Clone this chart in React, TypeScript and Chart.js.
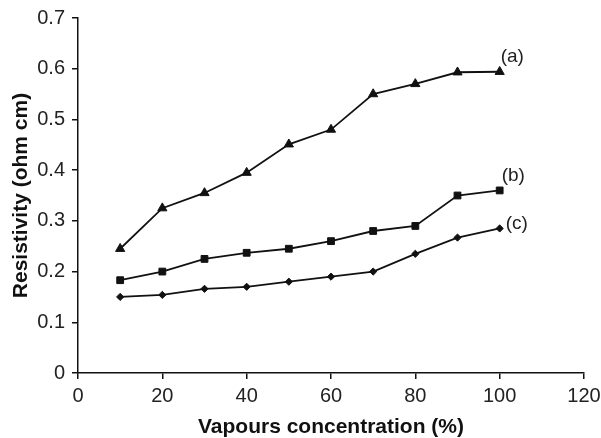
import React, { useEffect, useRef } from "react";
import { Chart, registerables } from "chart.js";

Chart.register(...registerables);

const concentrations = [10, 20, 30, 40, 50, 60, 70, 80, 90, 100];
const seriesA = [0.245, 0.325, 0.355, 0.395, 0.451, 0.48, 0.55, 0.57, 0.593, 0.594];
const seriesB = [0.183, 0.2, 0.225, 0.237, 0.245, 0.26, 0.28, 0.29, 0.35, 0.36];
const seriesC = [0.15, 0.154, 0.166, 0.17, 0.18, 0.19, 0.2, 0.235, 0.267, 0.285];
const seriesLabels = ["(a)", "(b)", "(c)"];

const FONT = "'Liberation Sans', Arial, sans-serif";

const endLabels = {
  id: "endLabels",
  afterDatasetsDraw(chart: any) {
    const ctx = chart.ctx;
    ctx.save();
    ctx.font = `19px ${FONT}`;
    ctx.fillStyle = "#222";
    ctx.textAlign = "left";
    ctx.textBaseline = "middle";
    const offsets = [[1, -15], [2, -15], [6, -5]];
    chart.data.datasets.forEach((ds: any, i: number) => {
      const meta = chart.getDatasetMeta(i);
      const pt = meta.data[meta.data.length - 1];
      ctx.fillText(seriesLabels[i], pt.x + offsets[i][0], pt.y + offsets[i][1]);
    });
    ctx.restore();
  },
};

export default function App() {
  const ref = useRef<HTMLCanvasElement | null>(null);
  useEffect(() => {
    if (!ref.current) return;
    const mk = (vals: number[]) => concentrations.map((x, i) => ({ x, y: vals[i] }));
    const common = {
      borderColor: "#111",
      backgroundColor: "#111",
      pointBackgroundColor: "#111",
      pointBorderColor: "#111",
      pointBorderWidth: 1,
      borderWidth: 1.8,
      showLine: true,
      tension: 0,
    };
    const chart = new Chart(ref.current, {
      type: "scatter",
      data: {
        datasets: [
          { ...common, data: mk(seriesA), pointStyle: "triangle", pointRadius: 5.3 },
          { ...common, data: mk(seriesB), pointStyle: "rect", pointRadius: 4.8 },
          { ...common, data: mk(seriesC), pointStyle: "rectRot", pointRadius: 3.6 },
        ],
      },
      plugins: [endLabels],
      options: {
        animation: false,
        responsive: false,
        maintainAspectRatio: false,
        layout: { padding: { top: 18, right: 17, left: 0, bottom: 0 } },
        plugins: { legend: { display: false }, tooltip: { enabled: false } },
        scales: {
          x: {
            type: "linear",
            min: 0,
            max: 120,
            ticks: { stepSize: 20, color: "#222", font: { family: FONT, size: 20 }, padding: 5 },
            grid: { display: true, drawOnChartArea: false, drawTicks: true, tickLength: 6, color: "#111", lineWidth: 1.5 },
            border: { display: true, color: "#111", width: 1.5 },
            title: {
              display: true,
              text: "Vapours concentration (%)",
              color: "#111",
              font: { family: FONT, size: 21, weight: "bold" },
              padding: { top: 0, bottom: -2 },
            },
            afterFit: (s: any) => { s.height = 65; s.paddingRight = 0; s.paddingLeft = 0; },
          },
          y: {
            min: 0,
            max: 0.7,
            ticks: {
              stepSize: 0.1,
              color: "#222",
              font: { family: FONT, size: 20 },
              padding: 7,
              callback: (v: any) => (Math.round(Number(v) * 10) / 10).toString(),
            },
            grid: { display: true, drawOnChartArea: false, drawTicks: true, tickLength: 6, color: "#111", lineWidth: 1.5 },
            border: { display: true, color: "#111", width: 1.5 },
            title: {
              display: true,
              text: "Resistivity (ohm cm)",
              color: "#111",
              font: { family: FONT, size: 21, weight: "bold" },
              padding: { top: 9, bottom: 9 },
            },
            afterFit: (s: any) => { s.width = 78; s.paddingTop = 0; s.paddingBottom = 0; },
          },
        },
      },
    } as any);
    return () => chart.destroy();
  }, []);
  return (
    <div style={{ position: "fixed", left: 0, top: 0, width: 601, height: 438, background: "#fff" }}>
      <canvas ref={ref} width={601} height={438} style={{ width: 601, height: 438 }} />
    </div>
  );
}
